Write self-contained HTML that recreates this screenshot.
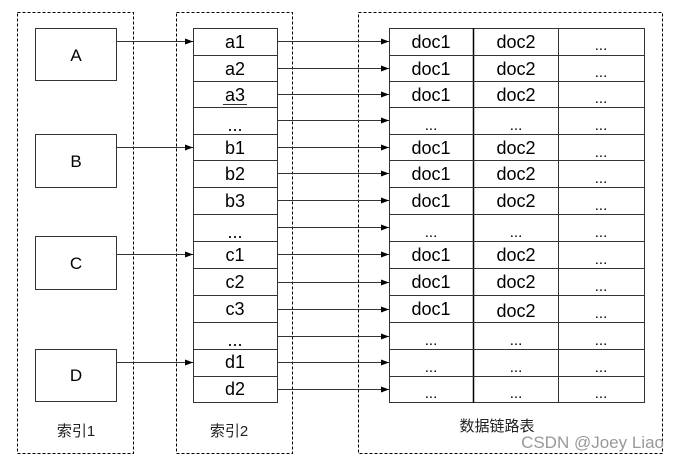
<!DOCTYPE html>
<html><head><meta charset="utf-8"><style>body{margin:0;background:#fff}svg{display:block}</style></head><body>
<svg width="677" height="463" xmlns="http://www.w3.org/2000/svg" font-family="Liberation Sans, Arial, sans-serif">
<defs><marker id="ar" markerWidth="8" markerHeight="6" refX="8" refY="3" orient="auto" markerUnits="userSpaceOnUse"><path d="M0,0 L8,3 L0,6 z" fill="#000"/></marker></defs>
<g fill="none" stroke="#000" stroke-width="1" stroke-dasharray="3,2">
<rect x="17.5" y="12.5" width="116" height="441"/>
<rect x="176.5" y="12.5" width="116" height="441"/>
<rect x="358.5" y="12.5" width="304" height="441"/>
</g>
<g fill="#fff" stroke="#333" stroke-width="1">
<rect x="35.5" y="28.5" width="81" height="52"/>
<rect x="35.5" y="134.5" width="81" height="53"/>
<rect x="35.5" y="236.5" width="81" height="53"/>
<rect x="35.5" y="349.5" width="81" height="52"/>
</g>
<g font-size="17" text-anchor="middle" fill="#000">
<text x="76" y="61">A</text><text x="76" y="167">B</text><text x="76" y="269">C</text><text x="76" y="381">D</text>
</g>
<g stroke="#333" stroke-width="1" marker-end="url(#ar)">
<line x1="116" y1="41.5" x2="193" y2="41.5"/>
<line x1="116" y1="147.5" x2="193" y2="147.5"/>
<line x1="116" y1="254.5" x2="193" y2="254.5"/>
<line x1="116" y1="362.5" x2="193" y2="362.5"/>
</g>
<g id="rows"></g>
<g fill="none" stroke="#333" stroke-width="1">
<rect x="193.5" y="28.5" width="84" height="374"/>
<rect x="389.5" y="28.5" width="255" height="374"/>
<line x1="473.5" y1="28" x2="473.5" y2="403" stroke="#000" stroke-width="1.5"/>
<line x1="558.5" y1="28" x2="558.5" y2="403"/>
<path d="M193 55.5H277M193 81.5H277M193 107.5H277M193 134.5H277M193 160.5H277M193 187.5H277M193 214.5H277M193 241.5H277M193 268.5H277M193 295.5H277M193 322.5H277M193 349.5H277M193 376.5H277"/>
<path d="M389 55.5H644M389 81.5H644M389 107.5H644M389 134.5H644M389 160.5H644M389 187.5H644M389 214.5H644M389 241.5H644M389 268.5H644M389 295.5H644M389 322.5H644M389 349.5H644M389 376.5H644"/>
</g>
<g stroke="#333" stroke-width="1" marker-end="url(#ar)">
<line x1="277" y1="41.5" x2="389" y2="41.5"/>
<line x1="277" y1="68.5" x2="389" y2="68.5"/>
<line x1="277" y1="94.5" x2="389" y2="94.5"/>
<line x1="277" y1="120.5" x2="389" y2="120.5"/>
<line x1="277" y1="147.5" x2="389" y2="147.5"/>
<line x1="277" y1="173.5" x2="389" y2="173.5"/>
<line x1="277" y1="200.5" x2="389" y2="200.5"/>
<line x1="277" y1="227.5" x2="389" y2="227.5"/>
<line x1="277" y1="254.5" x2="389" y2="254.5"/>
<line x1="277" y1="282.5" x2="389" y2="282.5"/>
<line x1="277" y1="309.5" x2="389" y2="309.5"/>
<line x1="277" y1="336.5" x2="389" y2="336.5"/>
<line x1="277" y1="362.5" x2="389" y2="362.5"/>
<line x1="277" y1="389.5" x2="389" y2="389.5"/>
</g>
<g font-size="18" text-anchor="middle" fill="#000">
<text x="235" y="48">a1</text><text x="235" y="75">a2</text><text x="235" y="101">a3</text><text x="235" y="131">...</text>
<text x="235" y="154">b1</text><text x="235" y="180">b2</text><text x="235" y="207">b3</text><text x="235" y="238">...</text>
<text x="235" y="261">c1</text><text x="235" y="288">c2</text><text x="235" y="315">c3</text><text x="235" y="346">...</text>
<text x="235" y="368">d1</text><text x="235" y="395">d2</text>
</g>
<line x1="223" y1="104.5" x2="247" y2="104.5" stroke="#333"/>
<g font-size="18" text-anchor="middle" fill="#000">
<text x="431" y="48">doc1</text><text x="516" y="48">doc2</text>
<text x="431" y="75">doc1</text><text x="516" y="75">doc2</text>
<text x="431" y="101">doc1</text><text x="516" y="101">doc2</text>
<text x="431" y="154">doc1</text><text x="516" y="154">doc2</text>
<text x="431" y="180">doc1</text><text x="516" y="180">doc2</text>
<text x="431" y="207">doc1</text><text x="516" y="207">doc2</text>
<text x="431" y="261">doc1</text><text x="516" y="261">doc2</text>
<text x="431" y="288">doc1</text><text x="516" y="288">doc2</text>
<text x="431" y="315">doc1</text><text x="516" y="317">doc2</text>
</g>
<g font-size="15" text-anchor="middle" fill="#000">
<text x="601" y="50">...</text><text x="601" y="77">...</text><text x="601" y="103">...</text>
<text x="431" y="130">...</text><text x="516" y="130">...</text><text x="601" y="130">...</text>
<text x="601" y="157">...</text><text x="601" y="183">...</text><text x="601" y="210">...</text>
<text x="431" y="237">...</text><text x="516" y="237">...</text><text x="601" y="237">...</text>
<text x="601" y="264">...</text><text x="601" y="291">...</text><text x="601" y="318">...</text>
<text x="431" y="345">...</text><text x="516" y="345">...</text><text x="601" y="345">...</text>
<text x="431" y="372">...</text><text x="516" y="372">...</text><text x="601" y="372">...</text>
<text x="431" y="398">...</text><text x="516" y="398">...</text><text x="601" y="398">...</text>
</g>
<g font-size="15" text-anchor="middle" fill="#222" font-family="Liberation Sans, Noto Sans CJK SC, sans-serif">
<text x="76" y="436">索引1</text><text x="229" y="436">索引2</text><text x="497" y="431">数据链路表</text>
</g>
<text x="664" y="448" font-size="17" text-anchor="end" fill="#999" font-family="Liberation Sans, sans-serif">CSDN @Joey Liao</text>
</svg>
</body></html>
